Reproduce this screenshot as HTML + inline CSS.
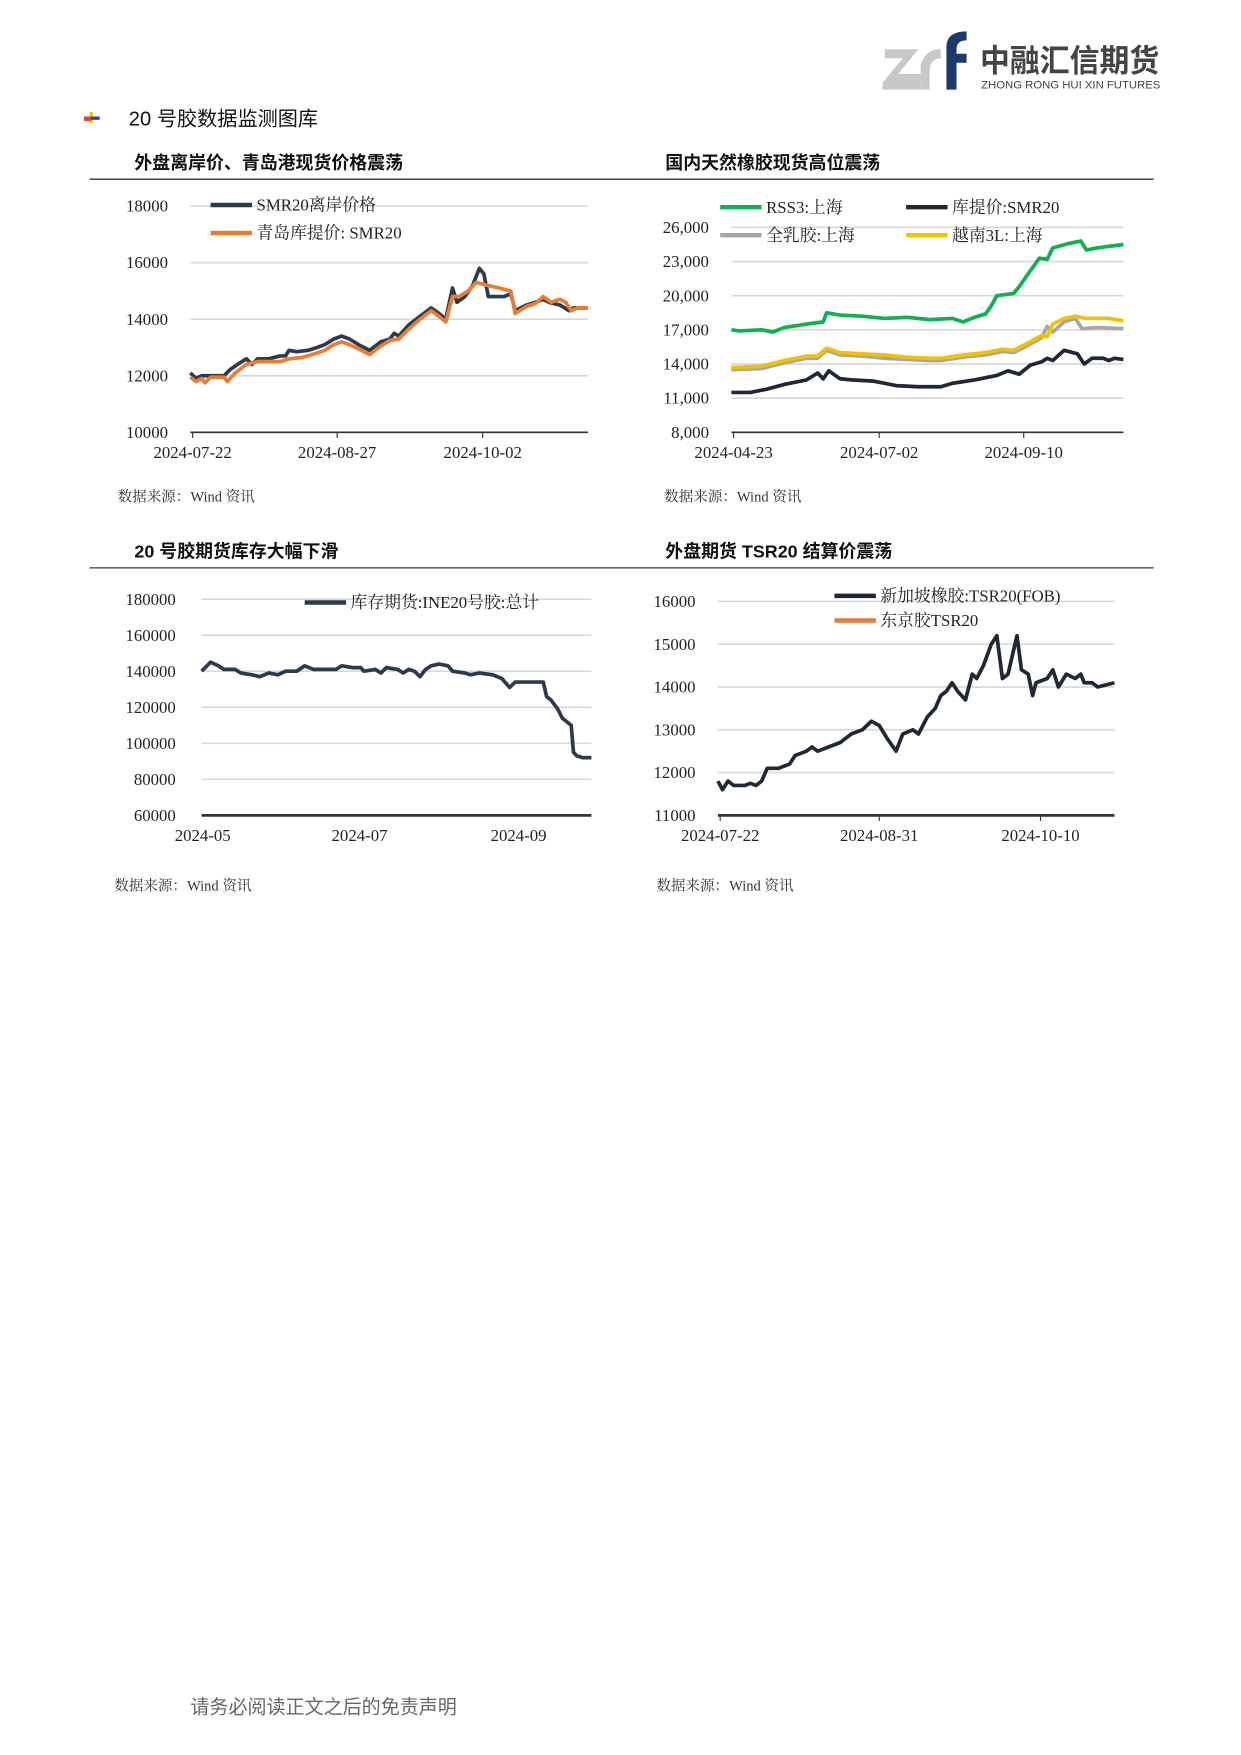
<!DOCTYPE html>
<html><head><meta charset="utf-8"><style>
html,body{margin:0;padding:0;background:#fff;}
svg{display:block;}
text{font-family:"Liberation Serif","Noto Serif CJK SC",serif;}
.t{font-family:"Liberation Sans","Noto Sans CJK SC",sans-serif;font-weight:bold;font-size:16px;fill:#111;}
.ax{font-size:15px;fill:#222;}
.src{font-size:13px;fill:#333;}
.lg{font-size:15px;fill:#222;}
.g{stroke:#d9d9d9;stroke-width:1.5;}
</style></head><body>
<svg id="s" width="1241" height="1755" viewBox="0 0 1108 1567" preserveAspectRatio="none" xmlns="http://www.w3.org/2000/svg">
<g>
<path d="M790 44 h30 l-18 22 h20 v14 h-34 v-6 l18 -22 h-16z" fill="#c8c8c8"/>
<path d="M822 58 q4 -14 18 -14 v8 q-10 0 -10 12 v16 h-8z" fill="#c8c8c8"/>
<path d="M845 80 v-38 q0 -14 18 -14 v8 q-9 0 -9 8 v4 h9 v8 h-9 v24z" fill="#1b3a6b"/>
<text x="875" y="64" textLength="160" lengthAdjust="spacingAndGlyphs" style="font-family:'Noto Sans CJK SC',sans-serif;font-weight:bold;font-size:28px;fill:#444">中融汇信期货</text>
<text x="876" y="79" textLength="160" lengthAdjust="spacingAndGlyphs" style="font-family:'Liberation Sans',sans-serif;font-size:10px;fill:#444">ZHONG RONG HUI XIN FUTURES</text>
</g>
<rect x="80" y="100" width="3" height="10" fill="#f5c300"/>
<rect x="75" y="104" width="6" height="4" fill="#e04050"/>
<rect x="81" y="104" width="8" height="3" fill="#3040c0"/>
<text x="115" y="112" style="font-family:'Liberation Sans','Noto Sans CJK SC',sans-serif;font-size:18px;fill:#111">20 号胶数据监测图库</text>

<text class="t" x="120" y="151">外盘离岸价、青岛港现货价格震荡</text>
<text class="t" x="594" y="151">国内天然橡胶现货高位震荡</text>
<line x1="80" y1="160" x2="1030" y2="160" stroke="#333" stroke-width="1.2"/>
<text class="t" x="120" y="498">20 号胶期货库存大幅下滑</text>
<text class="t" x="594" y="498">外盘期货 TSR20 结算价震荡</text>
<line x1="80" y1="507" x2="1030" y2="507" stroke="#666" stroke-width="1.5"/>

<text class="src" x="105" y="448">数据来源：Wind 资讯</text>
<text class="src" x="593" y="448">数据来源：Wind 资讯</text>
<text class="src" x="102" y="795">数据来源：Wind 资讯</text>
<text class="src" x="586" y="795">数据来源：Wind 资讯</text>
<text x="170" y="1530" style="font-family:'Liberation Sans','Noto Sans CJK SC',sans-serif;font-size:17px;fill:#666">请务必阅读正文之后的免责声明</text>
<g id="c"></g>
</svg>
<script>
const NS="http://www.w3.org/2000/svg",G=document.getElementById('c');
function el(t,a,txt){const e=document.createElementNS(NS,t);for(const k in a)e.setAttribute(k,a[k]);if(txt!=null)e.textContent=txt;G.appendChild(e);return e;}
function chart(o){
 const ys=v=>o.y0-(v-o.v0)/(o.v1-o.v0)*(o.y0-o.y1);
 o.ticks.forEach(([v,l])=>{const y=ys(v);
  if(v!==o.v0)el('line',{x1:o.x0,x2:o.x1,y1:y,y2:y,class:'g'});
  el('text',{x:o.lx,y:y+5,'text-anchor':'end',class:'ax'},l);});
 el('line',{x1:o.x0,x2:o.x1,y1:o.y0,y2:o.y0,stroke:'#333','stroke-width':o.bw||1.5});
 o.xt.forEach(([x,l])=>{if(o.tk)el('line',{x1:x,x2:x,y1:o.y0,y2:o.y0+5,stroke:'#333'});el('text',{x:x,y:o.y0+23,'text-anchor':'middle',class:'ax'},l);});
 o.series.forEach(s=>{el('polyline',{points:s.d.map(p=>p[0]+','+ys(p[1]).toFixed(1)).join(' '),fill:'none',stroke:s.c,'stroke-width':3.3,'stroke-linejoin':'round'});});
 o.leg.forEach(([x,y,c,l])=>{el('line',{x1:x,x2:x+37,y1:y,y2:y,stroke:c,'stroke-width':4});el('text',{x:x+41,y:y+5,class:'lg'},l);});
}
const D='#2e3a4c',O='#e87d33';
chart({x0:170,x1:525,y0:386,y1:184,v0:10000,v1:18000,lx:150,tk:1,
 ticks:[[10000,'10000'],[12000,'12000'],[14000,'14000'],[16000,'16000'],[18000,'18000']],
 xt:[[172,'2024-07-22'],[301,'2024-08-27'],[431,'2024-10-02']],
 series:[{c:D,d:[[170,12100],[175,11900],[180,12000],[190,12000],[200,12000],[205,12200],[212,12400],[220,12600],[225,12400],[230,12600],[240,12600],[250,12700],[255,12700],[258,12900],[265,12850],[275,12900],[283,13000],[290,13100],[298,13300],[305,13400],[312,13300],[320,13100],[330,12900],[340,13200],[348,13300],[352,13500],[356,13400],[365,13800],[375,14100],[385,14400],[392,14200],[398,14000],[404,15100],[408,14600],[415,14800],[422,15200],[428,15800],[432,15600],[436,14800],[446,14800],[450,14800],[456,14900],[460,14300],[470,14500],[478,14600],[485,14700],[490,14600],[500,14500],[508,14300],[512,14400],[525,14400]]},
 {c:O,d:[[170,11950],[175,11800],[180,11900],[183,11750],[188,11950],[200,11950],[203,11800],[210,12100],[220,12400],[230,12500],[240,12500],[250,12500],[258,12600],[270,12650],[283,12800],[290,12900],[298,13100],[305,13200],[312,13100],[320,12950],[330,12750],[340,13050],[348,13250],[356,13300],[365,13650],[375,14000],[385,14300],[392,14100],[398,13900],[404,14800],[410,14800],[418,15000],[425,15300],[435,15200],[446,15100],[456,15000],[460,14200],[470,14450],[478,14550],[485,14800],[492,14600],[500,14700],[505,14600],[510,14300],[515,14400],[525,14400]]}],
 leg:[[188,183,D,'SMR20离岸价格'],[188,208,O,'青岛库提价: SMR20']]});
chart({x0:653,x1:1003,y0:386,y1:203,v0:8000,v1:26000,lx:633,tk:1,
 ticks:[[8000,'8,000'],[11000,'11,000'],[14000,'14,000'],[17000,'17,000'],[20000,'20,000'],[23000,'23,000'],[26000,'26,000']],
 xt:[[655,'2024-04-23'],[785,'2024-07-02'],[914,'2024-09-10']],
 series:[
 {c:'#a6a6a6',d:[[653,13500],[680,13600],[700,14100],[720,14500],[730,14500],[738,15200],[750,14800],[770,14700],[790,14500],[810,14400],[830,14300],[840,14300],[860,14600],[880,14800],[895,15100],[905,15000],[915,15500],[930,16300],[935,17300],[940,16800],[950,17700],[960,18000],[966,17100],[980,17200],[1003,17100]]},
 {c:'#f2c200',d:[[653,13700],[680,13800],[700,14300],[720,14700],[730,14700],[738,15400],[750,15000],[770,14900],[790,14800],[810,14600],[830,14500],[840,14500],[860,14800],[880,15000],[895,15300],[905,15200],[915,15700],[930,16500],[935,16400],[940,17500],[950,18000],[960,18200],[970,18000],[990,18000],[1003,17800]]},
 {c:'#1f2833',d:[[653,11500],[670,11500],[685,11800],[700,12200],[720,12600],[730,13200],[735,12700],[740,13400],[750,12700],[760,12600],[780,12500],[790,12300],[800,12100],[820,12000],[840,12000],[850,12300],[870,12600],[890,13000],[900,13400],[910,13100],[920,13900],[930,14200],[935,14500],[940,14300],[950,15200],[962,14900],[968,14000],[975,14500],[985,14500],[990,14300],[995,14500],[1003,14400]]},
 {c:'#0fb050',d:[[653,17000],[660,16900],[680,17000],[690,16800],[700,17200],[720,17500],[735,17700],[738,18500],[750,18300],[770,18200],[790,18000],[810,18100],[830,17900],[850,18000],[860,17700],[870,18100],[880,18400],[885,19100],[890,20000],[905,20200],[910,20800],[920,22200],[928,23300],[935,23200],[940,24200],[955,24600],[965,24800],[970,24000],[980,24200],[1003,24500]]}],
 leg:[[643,185,'#0fb050','RSS3:上海'],[809,185,'#1f2833','库提价:SMR20'],[643,210,'#a6a6a6','全乳胶:上海'],[809,210,'#f2c200','越南3L:上海']]});
chart({x0:180,x1:528,y0:728,y1:535,v0:60000,v1:180000,lx:157,tk:0,bw:2.5,
 ticks:[[60000,'60000'],[80000,'80000'],[100000,'100000'],[120000,'120000'],[140000,'140000'],[160000,'160000'],[180000,'180000']],
 xt:[[181,'2024-05'],[321,'2024-07'],[463,'2024-09']],
 series:[{c:D,d:[[180,140000],[188,145000],[195,143000],[200,141000],[210,141000],[215,139000],[225,138000],[232,137000],[240,139000],[248,138000],[255,140000],[265,140000],[272,143000],[280,141000],[290,141000],[300,141000],[305,143000],[315,142000],[322,142000],[325,140000],[335,141000],[340,139000],[345,142000],[355,141000],[360,139000],[365,141000],[370,140000],[375,137000],[380,141000],[385,143000],[392,144000],[400,143000],[404,140000],[415,139000],[420,138000],[428,139000],[440,138000],[448,136000],[455,131000],[460,134000],[470,134000],[485,134000],[488,126000],[492,124000],[498,119000],[502,114000],[510,110000],[512,95000],[515,93000],[520,92000],[528,92000]]}],
 leg:[[272,538,D,'库存期货:INE20号胶:总计']]});
chart({x0:641,x1:995,y0:728,y1:537,v0:11000,v1:16000,lx:621,tk:1,bw:2.5,
 ticks:[[11000,'11000'],[12000,'12000'],[13000,'13000'],[14000,'14000'],[15000,'15000'],[16000,'16000']],
 xt:[[643,'2024-07-22'],[785,'2024-08-31'],[929,'2024-10-10']],
 series:[{c:'#1f2833',d:[[641,11800],[645,11600],[650,11800],[655,11700],[665,11700],[670,11750],[675,11700],[680,11800],[685,12100],[695,12100],[705,12200],[710,12400],[720,12500],[725,12600],[730,12500],[740,12600],[750,12700],[760,12900],[770,13000],[778,13200],[785,13100],[792,12800],[800,12500],[806,12900],[815,13000],[820,12900],[828,13300],[835,13500],[840,13800],[845,13900],[850,14100],[855,13900],[862,13700],[868,14300],[872,14200],[878,14500],[885,15000],[890,15200],[895,14200],[900,14300],[908,15200],[912,14400],[918,14300],[922,13800],[925,14100],[935,14200],[940,14400],[945,14000],[952,14300],[960,14200],[965,14300],[968,14100],[975,14100],[980,14000],[995,14100]]}],
 leg:[[745,532,'#1f2833','新加坡橡胶:TSR20(FOB)'],[745,554,O,'东京胶TSR20']]});
</script>
</body></html>
